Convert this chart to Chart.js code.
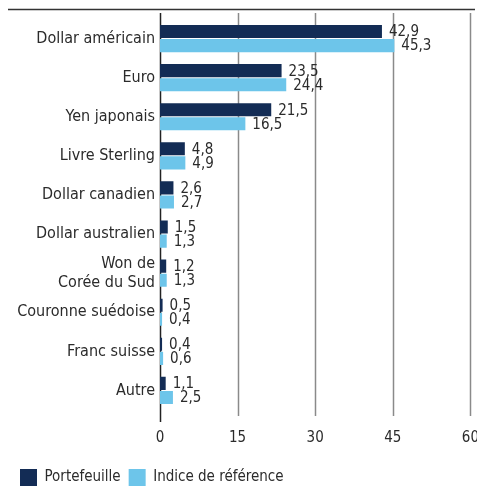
<!DOCTYPE html>
<html>
<head>
<meta charset="utf-8">
<script src="https://cdn.jsdelivr.net/npm/chart.js@4.4.0/dist/chart.umd.min.js"></script>
<style>
  html, body { margin: 0; padding: 0; background: #fff; overflow: hidden; }
  #wrap { position: relative; width: 490px; height: 496px; }
</style>
</head>
<body>
<div id="wrap"><canvas id="chart"></canvas></div>
<script>
const categories = [
  'Dollar américain', 'Euro', 'Yen japonais', 'Livre Sterling', 'Dollar canadien',
  'Dollar australien', ['Won de', 'Corée du Sud'], 'Couronne suédoise', 'Franc suisse', 'Autre'
];
const portefeuille = [42.9, 23.5, 21.5, 4.8, 2.6, 1.5, 1.2, 0.5, 0.4, 1.1];
const indice = [45.3, 24.4, 16.5, 4.9, 2.7, 1.3, 1.3, 0.4, 0.6, 2.5];
const xTicks = [0, 15, 30, 45, 60];

const FONT = '"DejaVu Sans Condensed", "Liberation Sans Narrow", sans-serif';
const TEXT = '#2b2b2b';

// value labels right of each bar, comma decimals
const valueLabels = {
  id: 'valueLabels',
  afterDatasetsDraw(chart) {
    const ctx = chart.ctx;
    ctx.save();
    ctx.font = '15px ' + FONT;
    ctx.fillStyle = TEXT;
    ctx.textBaseline = 'middle';
    ctx.textAlign = 'left';
    chart.data.datasets.forEach((ds, i) => {
      chart.getDatasetMeta(i).data.forEach((bar, j) => {
        ctx.fillText(ds.data[j].toFixed(1).replace('.', ','), bar.x + 7, bar.y + 1);
      });
    });
    ctx.restore();
  }
};

// grid lines a bit taller than the plot area + top rule
const frame = {
  id: 'frame',
  beforeDatasetsDraw(chart) {
    const ctx = chart.ctx;
    const x = chart.scales.x;
    const top = chart.chartArea.top;
    const bottom = chart.chartArea.bottom;
    ctx.save();
    xTicks.forEach(v => {
      const px = Math.round(x.getPixelForValue(v)) + 0.5;
      ctx.beginPath();
      ctx.strokeStyle = v === 0 ? '#222' : '#8a8a8a';
      ctx.lineWidth = 1.5;
      ctx.moveTo(px, top - 6);
      ctx.lineTo(px, bottom + (v === 0 ? 12 : 6));
      ctx.stroke();
    });
    ctx.beginPath();
    ctx.strokeStyle = '#333';
    ctx.lineWidth = 1.5;
    ctx.moveTo(8, top - 9.5);
    ctx.lineTo(475, top - 9.5);
    ctx.stroke();
    ctx.restore();
  }
};

new Chart(document.getElementById('chart'), {
  type: 'bar',
  data: {
    labels: categories,
    datasets: [
      { label: 'Portefeuille', data: portefeuille, backgroundColor: '#132c55',
        barPercentage: 0.93, categoryPercentage: 0.72 },
      { label: 'Indice de référence', data: indice, backgroundColor: '#6dc5ea',
        barPercentage: 0.93, categoryPercentage: 0.72 }
    ]
  },
  options: {
    indexAxis: 'y',
    responsive: true,
    maintainAspectRatio: false,
    animation: false,
    layout: { padding: { top: 19, right: 10, left: 12, bottom: 0 } },
    scales: {
      x: {
        min: 0, max: 60,
        afterBuildTicks: s => { s.ticks = xTicks.map(v => ({ value: v })); },
        afterFit: s => { s.height = 51; },
        grid: { display: false },
        border: { display: false },
        ticks: { color: TEXT, font: { family: FONT, size: 15 }, padding: 11 }
      },
      y: {
        afterFit: s => { s.width = 148; },
        grid: { display: false, drawTicks: false },
        border: { display: false },
        ticks: { color: TEXT, font: { family: FONT, size: 16 }, padding: 5, autoSkip: false }
      }
    },
    plugins: {
      legend: {
        position: 'bottom',
        align: 'start',
        labels: {
          color: TEXT, font: { family: FONT, size: 15 },
          boxWidth: 17, boxHeight: 17, padding: 8, useBorderRadius: false
        }
      },
      tooltip: { enabled: false }
    }
  },
  plugins: [frame, valueLabels]
});
</script>
</body>
</html>
